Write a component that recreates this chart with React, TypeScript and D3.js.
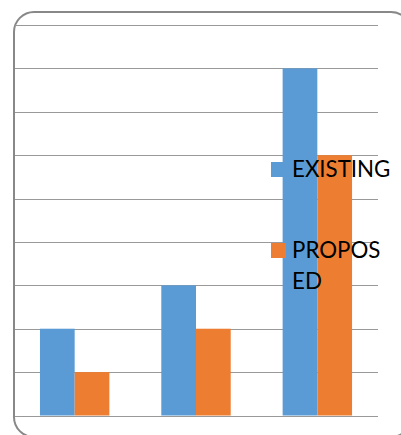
import React from "react";
import * as d3 from "d3";

const categories = ["1", "2", "3"];
const seriesNames = ["EXISTING", "PROPOSED"];
const existing = [2, 3, 8];
const proposed = [1, 2, 6];
const yTicks = [0, 1, 2, 3, 4, 5, 6, 7, 8, 9];
const legendLines = [["EXISTING"], ["PROPOS", "ED"]];
const colors = ["#5B9BD5", "#ED7D31"];

export default function App() {
  const W = 401;
  const H = 435;
  const x = d3.scaleBand().domain(categories).range([14, 378]).paddingInner(0.428).paddingOuter(0.214);
  const xs = d3.scaleBand().domain(seriesNames).range([0, x.bandwidth()]);
  const y = d3.scaleLinear().domain([0, 9]).range([415.5, 25]);
  const values = [existing, proposed];
  const font = "Lato, 'Liberation Sans', sans-serif";
  return (
    <svg width={W} height={H} style={{ position: "absolute", left: 0, top: 0, display: "block", background: "#fff" }}>
      <rect x={14} y={12} width={397} height={425} rx={20} ry={20} fill="#fff" stroke="#888" strokeWidth={2} />
      {yTicks.map((t) => (
        <line key={t} x1={15} x2={378} y1={Math.round(y(t)) + 0.5} y2={Math.round(y(t)) + 0.5} stroke="#999" strokeWidth={1.2} />
      ))}
      {seriesNames.map((s, si) =>
        categories.map((c, ci) => (
          <rect
            key={s + c}
            x={(x(c) as number) + (xs(s) as number)}
            y={y(values[si][ci])}
            width={xs.bandwidth()}
            height={y(0) - y(values[si][ci])}
            fill={colors[si]}
          />
        ))
      )}
      <rect x={271} y={162} width={15} height={15} fill={colors[0]} />
      <text x={292} y={177} fontFamily={font} fontSize={22.3} fill="#000">{legendLines[0][0]}</text>
      <rect x={271} y={243} width={15} height={15} fill={colors[1]} />
      <text x={292} y={258} fontFamily={font} fontSize={22.3} fill="#000">{legendLines[1][0]}</text>
      <text x={292} y={289} fontFamily={font} fontSize={22.3} fill="#000">{legendLines[1][1]}</text>
    </svg>
  );
}
